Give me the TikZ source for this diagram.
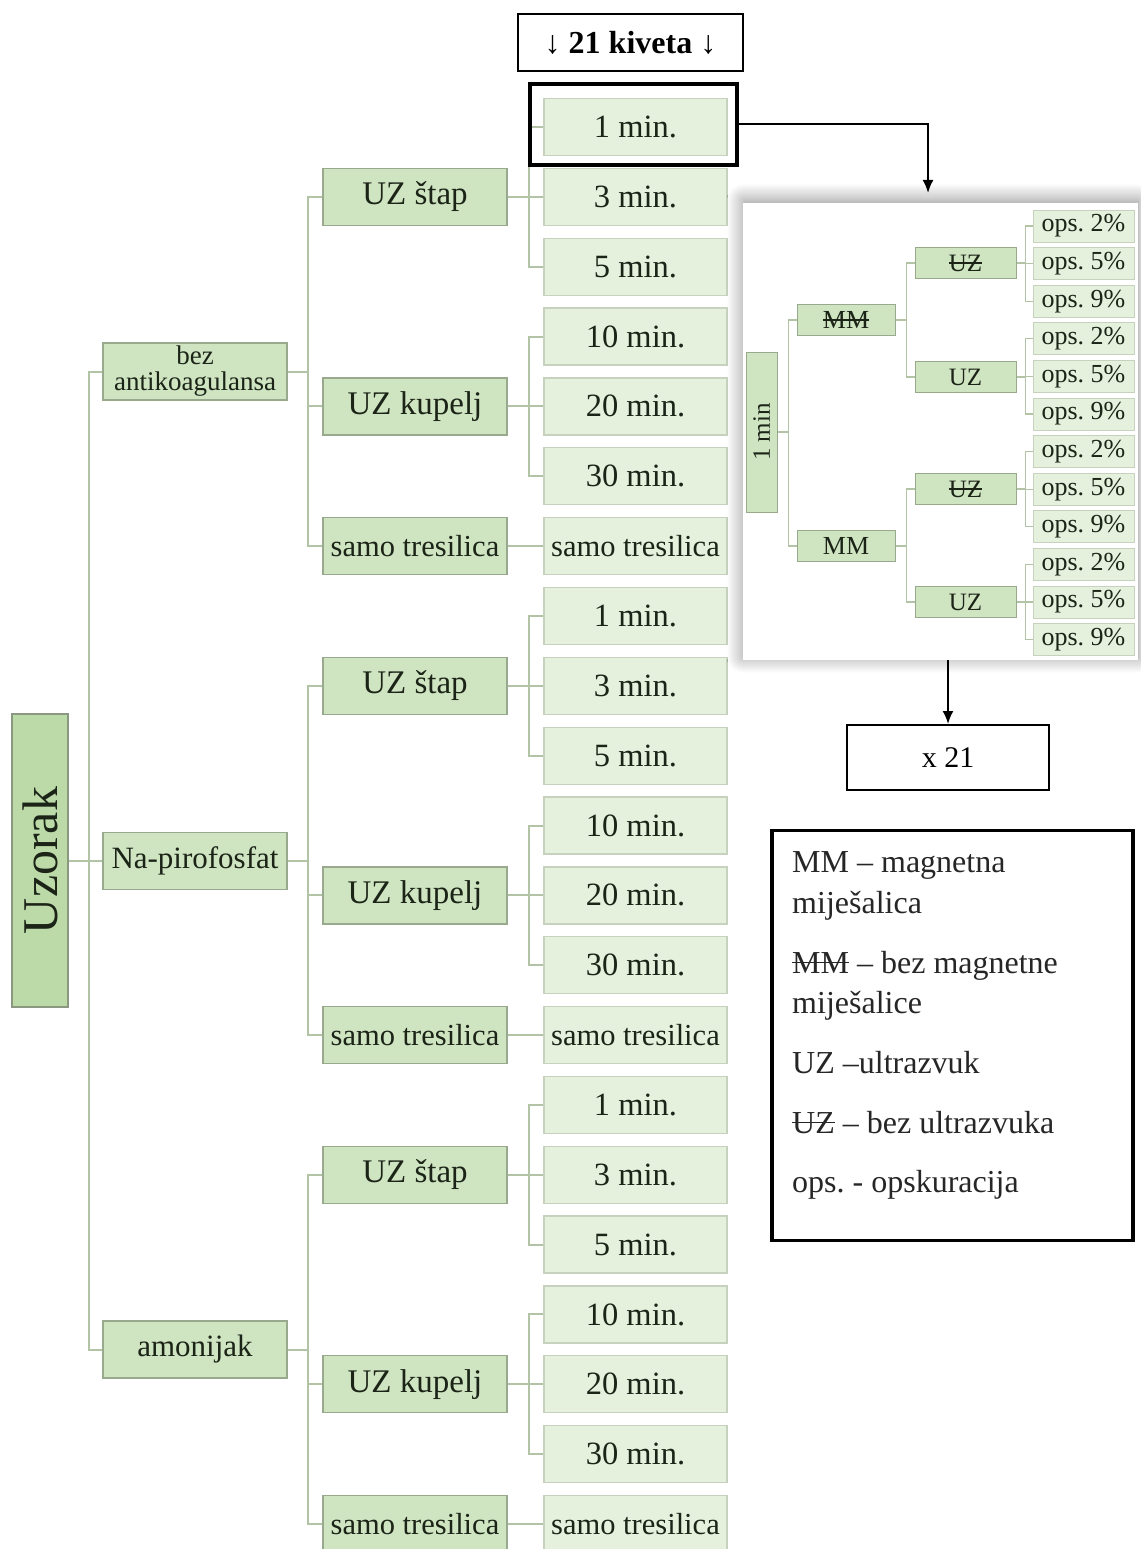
\documentclass[tikz,border=0pt]{standalone}
\usepackage{fontspec}
\setmainfont{Liberation Serif}
\usepackage{graphicx}
\usetikzlibrary{arrows.meta,shadows.blur}
\definecolor{lineg}{HTML}{B2C4A5}
\definecolor{fillm}{HTML}{CFE4C1}
\definecolor{fillt}{HTML}{E5F1DD}
\definecolor{fillu}{HTML}{BCD9A8}
\definecolor{bordm}{HTML}{98A98D}
\definecolor{bordt}{HTML}{C6D2BE}
\definecolor{txtc}{HTML}{1B2417}
\newsavebox\mystrikebox
\newcommand\mystrike[1]{\sbox\mystrikebox{#1}\rlap{\rule[0.3em]{\wd\mystrikebox}{0.055em}}\usebox\mystrikebox}
\frenchspacing
\begin{document}
\begin{tikzpicture}[x=1pt,y=-1pt,
  conn/.style={draw=lineg,line width=2pt},
  iconn/.style={draw=lineg,line width=1.3pt},
  gbox/.style={draw=bordm,fill=fillm,line width=1.3pt,inner sep=0pt,text=txtc,align=center},
  uzbox/.style={gbox,fill=fillu,draw=bordm!90!black,minimum width=56pt,minimum height=293pt,font=\fontsize{50}{50}\selectfont},
  lvlbox/.style={gbox,minimum width=184pt,minimum height=57pt,font=\fontsize{31}{32}\selectfont},
  methbox/.style={gbox,minimum width=184pt,minimum height=57pt,font=\fontsize{33}{34}\selectfont},
  timebox/.style={gbox,draw=bordt,fill=fillt,minimum width=183pt,minimum height=57pt,font=\fontsize{32.5}{34}\selectfont},
  ibox/.style={gbox,line width=1pt,font=\fontsize{25}{26}\selectfont},
  obox/.style={ibox,draw=bordt,fill=fillt,minimum width=101pt,minimum height=32pt,font=\fontsize{26}{26}\selectfont},
  arr/.style={draw=black,line width=2pt,-{Latex[length=13pt,width=11pt]}},
  legtxt/.style={anchor=base west,inner sep=0pt,font=\fontsize{32}{32}\selectfont,text=black!85}
]
\useasboundingbox (0,0) rectangle (1140,1549);

% root
\node[uzbox] (uz) at (40,860.5) {\rotatebox{90}{Uzorak}};

% level 1
\node[lvlbox,font=\fontsize{27}{26}\selectfont] (L0) at (195,371.5) {bez\\antikoagulansa};
\node[lvlbox] (L1) at (195,861) {Na-pirofosfat};
\node[lvlbox] (L2) at (195,1349.5) {amonijak};
\foreach \g in {0,1,2} \draw[conn] (uz.east) -- ++(20,0) |- (L\g.west);

% methods and times
\foreach \g in {0,1,2}{
  \foreach \k/\lab in {0/1 min.,1/3 min.,2/5 min.,3/10 min.,4/20 min.,5/30 min.}{
    \pgfmathsetmacro\yy{127+(7*\g+\k)*69.85}
    \node[timebox] (t\g\k) at (635.5,\yy) {\lab};
  }
  \pgfmathsetmacro\yy{127+(7*\g+6)*69.85}
  \node[timebox,font=\fontsize{30.5}{32}\selectfont] (t\g6) at (635.5,\yy) {samo tresilica};
  \pgfmathsetmacro\ya{127+(7*\g+1)*69.85}
  \pgfmathsetmacro\yb{127+(7*\g+4)*69.85}
  \node[methbox] (ms\g) at (415,\ya) {UZ štap};
  \node[methbox] (mk\g) at (415,\yb) {UZ kupelj};
  \node[methbox,font=\fontsize{30.5}{32}\selectfont] (mt\g) at (415,\yy) {samo tresilica};
  \draw[conn] (L\g.east) -- ++(20,0) |- (ms\g.west);
  \draw[conn] (L\g.east) -- ++(20,0) |- (mk\g.west);
  \draw[conn] (L\g.east) -- ++(20,0) |- (mt\g.west);
  \foreach \k in {0,1,2} \draw[conn] (ms\g.east) -- ++(21,0) |- (t\g\k.west);
  \foreach \k in {3,4,5} \draw[conn] (mk\g.east) -- ++(21,0) |- (t\g\k.west);
  \draw[conn] (mt\g.east) -- (t\g6.west);
}

% header
\node[draw,line width=1.8pt,minimum width=225pt,minimum height=57pt,inner sep=0pt,font=\bfseries\fontsize{32}{32}\selectfont] (kiv) at (630.5,42.5) {↓ 21 kiveta ↓};
\node[draw,line width=4pt,minimum width=207pt,minimum height=81pt,inner sep=0pt] (sel) at (633.5,124.5) {};

% inset
\node[fill=white,minimum width=395pt,minimum height=457pt,inner sep=0pt,
  blur shadow={shadow xshift=0pt,shadow yshift=3pt,shadow blur radius=16pt,shadow blur steps=16,shadow opacity=45}] (ins) at (940.5,431.5) {};
\node[ibox,minimum width=31pt,minimum height=160pt] (i1) at (761.5,432) {\rotatebox{90}{1 min}};
\node[ibox,minimum width=98pt,minimum height=31pt,font=\fontsize{26}{26}\selectfont] (mm1) at (846,320) {\mystrike{MM}};
\node[ibox,minimum width=98pt,minimum height=31pt,font=\fontsize{26}{26}\selectfont] (mm2) at (846,546) {MM};
\node[ibox,minimum width=101pt,minimum height=31pt] (u1) at (965.5,263) {\mystrike{UZ}};
\node[ibox,minimum width=101pt,minimum height=31pt] (u2) at (965.5,377) {UZ};
\node[ibox,minimum width=101pt,minimum height=31pt] (u3) at (965.5,489) {\mystrike{UZ}};
\node[ibox,minimum width=101pt,minimum height=31pt] (u4) at (965.5,602) {UZ};
\foreach \j in {1,2,3,4}{
  \foreach \k/\p in {0/2,1/5,2/9}{
    \pgfmathsetmacro\yy{226+(3*(\j-1)+\k)*37.6}
    \node[obox] (o\j\k) at (1083.5,\yy) {ops.~\p\%};
    \draw[iconn] (u\j.east) -- ++(9,0) |- (o\j\k.west);
  }
}
\draw[iconn] (i1.east) -- ++(11,0) |- (mm1.west);
\draw[iconn] (i1.east) -- ++(11,0) |- (mm2.west);
\draw[iconn] (mm1.east) -- ++(11,0) |- (u1.west);
\draw[iconn] (mm1.east) -- ++(11,0) |- (u2.west);
\draw[iconn] (mm2.east) -- ++(11,0) |- (u3.west);
\draw[iconn] (mm2.east) -- ++(11,0) |- (u4.west);

% arrows and x21
\coordinate (ain) at (928,193);
\draw[arr] (sel.east) -| (ain);
\node[draw,line width=2pt,minimum width=202pt,minimum height=65pt,inner sep=0pt,font=\fontsize{30}{30}\selectfont] (x21) at (948,757.5) {x 21};
\draw[arr] (x21.north |- ins.south) -- (x21.north);

% legend
\node[draw,line width=3.5pt,minimum width=361pt,minimum height=410pt,inner sep=0pt] (leg) at (952.5,1035.5) {};
\node[legtxt] (lg1) at (792,872) {MM – magnetna};
\node[legtxt] (lg2) at (792,913) {miješalica};
\node[legtxt] (lg3) at (792,973) {\mystrike{MM} – bez magnetne};
\node[legtxt] (lg4) at (792,1013) {miješalice};
\node[legtxt] (lg5) at (792,1073) {UZ –ultrazvuk};
\node[legtxt] (lg6) at (792,1133) {\mystrike{UZ} – bez ultrazvuka};
\node[legtxt] (lg7) at (792,1192) {ops. - opskuracija};
\end{tikzpicture}
\end{document}
